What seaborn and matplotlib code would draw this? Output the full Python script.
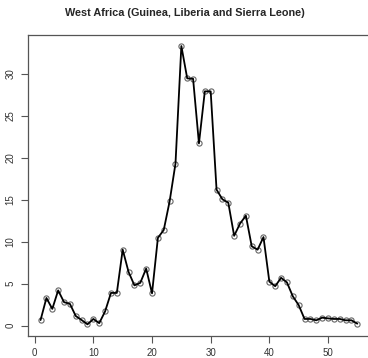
import matplotlib
matplotlib.use("Agg")
from matplotlib import pyplot as plt
import seaborn as sns
import pandas as pd

# weekly values
week = list(range(1, 56))
cases = [0.67, 3.3, 2.0, 4.2, 2.8, 2.6, 1.15, 0.67, 0.16, 0.8,
         0.3, 1.7, 3.9, 3.9, 9.05, 6.4, 4.8, 5.1, 6.8, 3.85,
         10.45, 11.4, 14.8, 19.3, 33.3, 29.45, 29.4, 21.7, 27.9, 27.9,
         16.2, 15.05, 14.65, 10.7, 12.15, 13.1, 9.45, 9.05, 10.55, 5.25,
         4.7, 5.7, 5.15, 3.5, 2.45, 0.8, 0.8, 0.64, 0.95, 0.87,
         0.8, 0.8, 0.64, 0.64, 0.24]
x_ticks = [0, 10, 20, 30, 40, 50]
y_ticks = [0, 5, 10, 15, 20, 25, 30]
title = "West Africa (Guinea, Liberia and Sierra Leone)"

df = pd.DataFrame({"week": week, "cases": cases})

sns.set_style("white")
plt.rcParams['font.family'] = ['Liberation Sans', 'DejaVu Sans']

fig = plt.figure(figsize=(3.68, 3.58), dpi=100)
ax = fig.add_axes([27.9 / 368, 22.5 / 358, (370 - 27.9) / 368, 300.4 / 358])

# open circles first, then the line drawn over them (R type="o")
sns.scatterplot(data=df, x="week", y="cases", ax=ax, s=14, facecolor="white",
                edgecolor="#666666", linewidth=0.8, zorder=2)
sns.lineplot(data=df, x="week", y="cases", ax=ax, color="black",
             linewidth=1.3, zorder=3)

ax.set_xlim(-1.16, 57.16)
ax.set_ylim(-1.17, 34.6)
ax.set_xticks(x_ticks)
ax.set_yticks(y_ticks)
ax.set_xlabel("")
ax.set_ylabel("")
for s in ax.spines.values():
    s.set_color("#555555")
    s.set_linewidth(0.9)
ax.tick_params(axis="both", which="both", direction="out", length=5, width=0.8,
               color="#555555", labelsize=7, labelcolor="#333333",
               bottom=True, left=True, pad=4)
plt.setp(ax.get_yticklabels(), rotation=90, va="center")

fig.suptitle(title, x=185 / 368, y=1 - 13 / 358, va="center",
             fontsize=7.8, fontweight="bold")

fig.savefig("out.png", dpi=100)
